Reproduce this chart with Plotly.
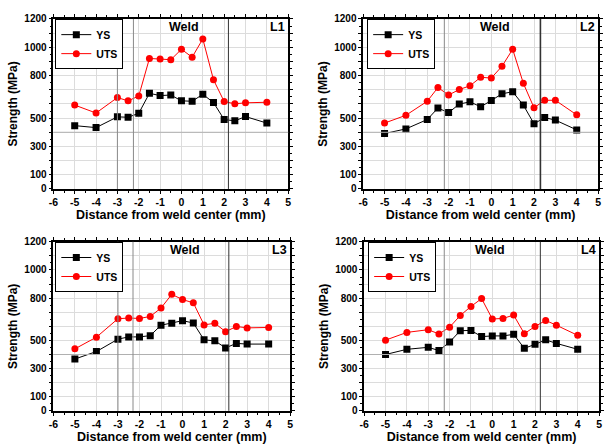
import plotly.graph_objects as go

distance = [-5, -4, -3, -2.5, -2, -1.5, -1, -0.5, 0, 0.5, 1, 1.5, 2, 2.5, 3, 4]

L1_YS = [447, 433, 509, 506, 534, 675, 659, 663, 622, 619, 668, 610, 490, 481, 511, 465]
L1_UTS = [592, 536, 645, 622, 656, 921, 917, 912, 986, 930, 1059, 771, 617, 601, 608, 612]

L2_YS = [391, 424, 490, 571, 539, 599, 615, 580, 624, 672, 686, 592, 460, 504, 486, 417]
L2_UTS = [465, 520, 619, 716, 663, 702, 728, 788, 783, 866, 986, 746, 573, 626, 626, 523]

L3_YS = [368, 421, 509, 525, 525, 534, 608, 622, 640, 624, 504, 497, 447, 479, 474, 474]
L3_UTS = [440, 523, 654, 659, 656, 670, 730, 827, 790, 767, 610, 622, 562, 599, 589, 592]

L4_YS = [400, 437, 451, 428, 488, 569, 571, 527, 532, 532, 543, 444, 472, 504, 479, 437]
L4_UTS = [502, 557, 576, 546, 594, 677, 741, 797, 652, 656, 680, 548, 599, 642, 608, 536]

panel_names = ["L1", "L2", "L3", "L4"]
ys_series = [L1_YS, L2_YS, L3_YS, L4_YS]
uts_series = [L1_UTS, L2_UTS, L3_UTS, L4_UTS]

y_tick_vals = list(range(0, 1300, 100))
y_tick_labels = {0: "0", 100: "100", 300: "300", 500: "500", 800: "800", 1000: "1000", 1200: "1200"}

W, H = 606, 448
# plot-area pixel boxes (left, right, top, bottom)
boxes = [(49, 287, 13.3, 188), (363, 601, 13.3, 188), (49, 289, 242.3, 416), (364, 602, 242.3, 416)]
legend_px = [(51, 13.5), (367, 13.5), (51, 242.5), (368, 242.5)]
weld_x = [0.1, 0.17, 0.13, -0.1]
boundary_lines = [[-3, -2.25, 2.2], [-2.2, 2.3], [-3, -2.3, 2.15], [-2.25, 2.25]]

FONT = "Arial, Liberation Sans, sans-serif"

fig = go.Figure()
layout = dict(
    width=W, height=H,
    margin=dict(l=0, r=0, t=0, b=0),
    paper_bgcolor="white", plot_bgcolor="white",
    font=dict(family=FONT, color="black"),
    annotations=[], shapes=[],
)

for i in range(4):
    n = "" if i == 0 else str(i + 1)
    xa, ya = "x" + n, "y" + n
    leg = "legend" + n
    l, r, t, b = boxes[i]
    layout["shapes"].append(dict(
        type="line", xref=xa + " domain", yref=ya, x0=0, x1=1, y0=400, y1=400,
        line=dict(color="#b0b0b0", width=1), layer="above"))
    for bx in boundary_lines[i]:
        strong = bx > 0
        layout["shapes"].append(dict(
            type="line", xref=xa, yref=ya + " domain", x0=bx, x1=bx, y0=0, y1=1,
            line=dict(color="#333333" if strong else "#8a8a8a",
                      width=(1.6 if (i == 1 and strong) else 1)),
            layer="above"))

    fig.add_trace(go.Scatter(
        x=distance, y=ys_series[i], name="YS", mode="lines+markers",
        line=dict(color="black", width=1), marker=dict(symbol="square", size=7, color="black"),
        xaxis=xa, yaxis=ya, legend=leg))
    fig.add_trace(go.Scatter(
        x=distance, y=uts_series[i], name="UTS", mode="lines+markers",
        line=dict(color="red", width=1), marker=dict(symbol="circle", size=7, color="red"),
        xaxis=xa, yaxis=ya, legend=leg))

    layout["xaxis" + n] = dict(
        domain=[l / W, r / W], anchor=ya, range=[-6, 5],
        tickvals=list(range(-6, 6)), ticktext=[str(v) for v in range(-6, 6)],
        showgrid=True, gridcolor="#dcdcdc", gridwidth=1, zeroline=False,
        showline=True, linecolor="black", linewidth=1.5, mirror="ticks",
        ticks="outside", ticklen=3, tickcolor="black",
        minor=dict(dtick=0.5, ticks="outside", ticklen=2, tickcolor="black", showgrid=False),
        tickfont=dict(size=10.5, family=FONT, weight="bold"),
        title=dict(text="<b>Distance from weld center (mm)</b>", font=dict(size=12.5, family=FONT), standoff=2),
    )
    layout["yaxis" + n] = dict(
        domain=[1 - b / H, 1 - t / H], anchor=xa, range=[0, 1200],
        tickvals=y_tick_vals, ticktext=[y_tick_labels.get(v, "") for v in y_tick_vals],
        showgrid=True, gridcolor="#dcdcdc", gridwidth=1, zeroline=False,
        showline=True, linecolor="black", linewidth=1.5, mirror="ticks",
        ticks="outside", ticklen=3, tickcolor="black",
        minor=dict(dtick=50, ticks="outside", ticklen=2, tickcolor="black", showgrid=False),
        tickfont=dict(size=10, family=FONT, weight="bold"),
        title=dict(text="<b>Strength (MPa)</b>", font=dict(size=12, family=FONT), standoff=4),
    )
    lx, ly = legend_px[i]
    layout[leg] = dict(
        x=lx / W, y=1 - ly / H, xanchor="left", yanchor="top", xref="paper", yref="paper",
        bgcolor="white", bordercolor="black", borderwidth=1,
        font=dict(size=10.5, family=FONT, weight="bold"),
        tracegroupgap=0, itemwidth=30,
    )
    layout["annotations"].append(dict(
        x=weld_x[i], y=1140, xref=xa, yref=ya, text="<b>Weld</b>", showarrow=False,
        font=dict(size=12.5, family=FONT)))
    layout["annotations"].append(dict(
        x=4.5, y=1140, xref=xa, yref=ya, text="<b>" + panel_names[i] + "</b>", showarrow=False,
        font=dict(size=12.5, family=FONT)))

fig.update_layout(**layout)
fig.write_html(
    "out.html",
    config={"displayModeBar": False},
    post_script="document.body.style.margin='0';document.body.style.overflow='hidden';",
)
